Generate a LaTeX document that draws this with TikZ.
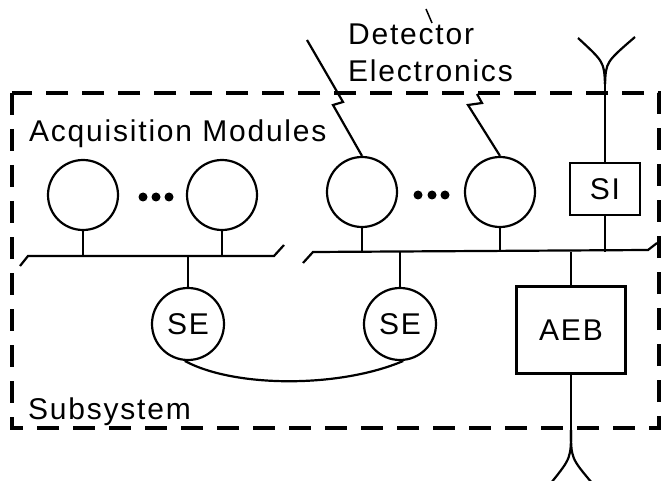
\documentclass[tikz,border=0pt]{standalone}
\usepackage{fontspec}
\setmainfont{Liberation Sans}[LetterSpace=6]
\usepackage{tikz}
\usetikzlibrary{calc, positioning}
\tikzset{
  module/.style={draw, circle, minimum size=70pt, inner sep=0pt},
  engine/.style={draw, circle, minimum size=72pt, inner sep=0pt},
  unit/.style={draw, rectangle, inner sep=0pt},
  lettering/.style={anchor=base west, inner sep=0pt},
  boundary/.style={line width=3.4pt, dash pattern=on 22pt off 14pt}
}

\begin{document}
\begin{tikzpicture}[x=1pt, y=-1pt, line width=2.2pt, font=\fontsize{30}{36}\selectfont]
  \useasboundingbox (0,0) rectangle (661,481);

  % Subsystem boundary
  \draw[boundary] (12,93) rectangle (659,428);

  % Acquisition modules
  \node[module] (am1) at (83,195) {};
  \node[module] (am2) at (222,195) {};
  \node[module] (am3) at (362,192) {};
  \node[module] (am4) at (500,192) {};
  \foreach \x in {143,156,169} \fill (\x,197) circle (4.5pt);
  \foreach \x in {418,432,445} \fill (\x,195) circle (4.5pt);

  % Buses
  \coordinate (b1a) at (28,256);
  \coordinate (b1b) at (274,256);
  \coordinate (b2a) at (313,252);
  \coordinate (b2b) at (648,250);
  \draw ($(b1a)+(-8,10)$) -- (b1a) -- (b1b) -- ($(b1b)+(10,-11)$);
  \draw ($(b2a)+(-10,11)$) -- (b2a) -- (b2b) -- ($(b2b)+(9,-7)$);
  \foreach \m in {am1, am2} \draw (\m) -- (\m |- b1a);
  \foreach \m in {am3, am4} \draw (\m) -- (\m |- b2a);

  % Event builders
  \node[engine] (se1) at (188,324) {SE};
  \node[engine] (se2) at (400,324) {SE};
  \draw (se1) -- (se1 |- b1a);
  \draw (se2) -- (se2 |- b2a);
  \draw (se1.-95) .. controls (235,388) and (340,388) .. (se2.-85);

  % SI and AEB
  \node[unit, minimum width=70pt, minimum height=52pt] (si) at (605,189) {SI};
  \node[unit, minimum width=109pt, minimum height=87pt] (aeb) at (571,330) {AEB};
  \draw (si) -- (si |- b2a);
  \draw (aeb) -- (aeb |- b2a);

  % Links leaving the subsystem
  \coordinate (top) at (605,84);
  \draw (si) -- (top);
  \draw (top) .. controls (604,62) .. (578,38);
  \draw (top) .. controls (606,62) .. (635,37);
  \coordinate (bot) at (571,430);
  \draw (aeb) -- (bot);
  \draw (bot) .. controls (571,458) .. (551,483);
  \draw (bot) .. controls (571,458) .. (592,483);

  % Detector electronics lines
  \draw (am3.north) -- (333,105) -- (343,102) -- (307,40);
  \draw (am4.north) -- (468,105) -- (482,103) -- (477,94);

  % Labels
  \node[lettering] (acq) at (28,142) {Acquisition Modules};
  \node[lettering] (det) at (347,45) {Detector};
  \node[lettering] (elec) at (347,82) {Electronics};
  \node[lettering] (sub) at (27,419) {Subsystem};
  \draw[line width=1.5pt] (426,9) -- (432,23);
\end{tikzpicture}
\end{document}
